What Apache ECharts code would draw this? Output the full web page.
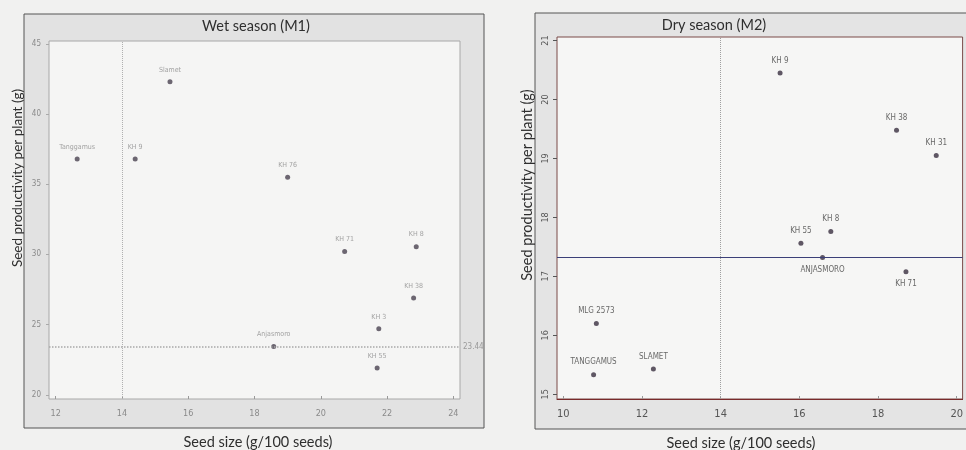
<!DOCTYPE html>
<html><head><meta charset="utf-8">
<script src="https://cdn.jsdelivr.net/npm/echarts@6/dist/echarts.min.js"></script>
<style>html,body{margin:0;padding:0;background:#f1f1f0;}#c{width:966px;height:450px;}</style>
</head><body><div id="c"></div>
<script>
// ---- data ----
const wetLabels = ['Tanggamus','KH 9','Slamet','KH 76','KH 71','KH 8','KH 38','KH 3','Anjasmoro','KH 55'];
const wetSize   = [12.65, 14.4, 15.45, 19.0, 20.72, 22.88, 22.8, 21.75, 18.58, 21.7];
const wetYield  = [36.8, 36.8, 42.3, 35.5, 30.2, 30.55, 26.9, 24.7, 23.44, 21.9];
const dryLabels = ['KH 9','KH 38','KH 31','KH 8','KH 55','ANJASMORO','KH 71','MLG 2573','TANGGAMUS','SLAMET'];
const drySize   = [15.51, 18.47, 19.48, 16.8, 16.04, 16.59, 18.71, 10.84, 10.77, 12.29];
const dryYield  = [20.45, 19.48, 19.05, 17.76, 17.56, 17.32, 17.08, 16.2, 15.33, 15.43];
const dryBelow  = ['ANJASMORO','KH 71'];
const wetXTicks = [12,14,16,18,20,22,24];
const wetYTicks = [20,25,30,35,40,45];
const dryXTicks = [10,12,14,16,18,20];
const dryYTicks = [15,16,17,18,19,20,21];
const wetRefX = 14, wetRefY = 23.44;
const dryRefX = 14, dryRefY = 17.33;
const xName = 'Seed size (g/100 seeds)';
const yName = 'Seed productivity per plant (g)';

const chart = echarts.init(document.getElementById('c'), null, {renderer:'canvas'});
const font = 'Lato, "Open Sans", sans-serif';
const cond = '"DejaVu Sans Condensed", "DejaVu Sans", sans-serif';

function wetData(){ return wetSize.map((x,i)=>({value:[x,wetYield[i]], name:wetLabels[i]})); }
function dryData(){ return drySize.map((x,i)=>({value:[x,dryYield[i]], name:dryLabels[i],
  label:{position: dryBelow.includes(dryLabels[i]) ? 'bottom' : 'top'}})); }

function txt(t, x, y, size, rot){
  return {type:'text', x:x, y:y, rotation:rot||0, z:10,
    style:{text:t, font:size+'px '+font, fill:'#2e2e2e', align:'center', verticalAlign:'middle'}};
}

chart.setOption({
  backgroundColor:'#f1f1f0',
  animation:false,
  graphic:[
    {type:'rect', z:-10, shape:{x:24,y:14,width:460,height:414}, style:{fill:'#e2e2e2', stroke:'#555', lineWidth:1}},
    {type:'rect', z:-10, shape:{x:535,y:13,width:440,height:416}, style:{fill:'#e4e4e4', stroke:'#555', lineWidth:1}},
    txt('Wet season (M1)', 256, 26, 14.5),
    txt('Dry season (M2)', 714, 25, 14.5),
    txt(xName, 258, 442, 14.5),
    txt(xName, 741, 443, 14.5),
    txt(yName, 18, 178, 13.5, Math.PI/2),
    txt(yName, 527, 185, 14.5, Math.PI/2)
  ],
  grid:[
    {left:49, top:41, width:411, height:358, show:true, backgroundColor:'#f5f5f4', borderColor:'#a8a8a8', borderWidth:1},
    {left:557, top:37, width:406, height:362, show:true, backgroundColor:'#f6f6f5', borderColor:'#7a4a48', borderWidth:1}
  ],
  xAxis:[
    {gridIndex:0, type:'value', min:11.8, max:24.2, splitLine:{show:false},
     axisLine:{show:false}, axisTick:{show:true, inside:true, length:3, customValues:wetXTicks, lineStyle:{color:'#999'}},
     axisLabel:{customValues:wetXTicks, color:'#8a8a8a', fontSize:9, fontFamily:cond, margin:10}},
    {gridIndex:1, type:'value', min:9.84, max:20.15, splitLine:{show:false},
     axisLine:{show:true, lineStyle:{color:'#7a2a2a'}}, axisTick:{show:true, inside:true, length:3, customValues:dryXTicks, lineStyle:{color:'#999'}},
     axisLabel:{customValues:dryXTicks, color:'#555', fontSize:11, fontFamily:cond, margin:10}}
  ],
  yAxis:[
    {gridIndex:0, type:'value', min:19.7, max:45.2, splitLine:{show:false},
     axisLine:{show:false}, axisTick:{show:true, length:3, customValues:wetYTicks, lineStyle:{color:'#aaa'}},
     axisLabel:{customValues:wetYTicks, color:'#8a8a8a', fontSize:8, fontFamily:cond, margin:8}},
    {gridIndex:1, type:'value', min:14.92, max:21.06, splitLine:{show:false},
     axisLine:{show:false}, axisTick:{show:true, length:4, customValues:dryYTicks, lineStyle:{color:'#555'}},
     axisLabel:{customValues:dryYTicks, color:'#555', fontSize:9, fontFamily:cond, margin:7, rotate:90}}
  ],
  series:[
    {type:'scatter', xAxisIndex:0, yAxisIndex:0, data:wetData(), symbol:'circle', symbolSize:5,
     itemStyle:{color:'#4a4250'},
     label:{show:true, position:'top', distance:6, formatter:'{b}', fontSize:7, fontFamily:cond, color:'#8d8d8d'},
     markLine:{silent:true, symbol:'none', animation:false,
       data:[
         {xAxis:wetRefX, lineStyle:{color:'#b0b0b0', type:'dotted', width:1}, label:{show:false}},
         {yAxis:wetRefY, lineStyle:{color:'#a8a8a8', type:'dotted', width:1.5},
          label:{show:true, position:'end', formatter:'23.44', fontSize:8, color:'#9a9a9a', fontFamily:cond, distance:3}}
       ]}},
    {type:'scatter', xAxisIndex:1, yAxisIndex:1, data:dryData(), symbol:'circle', symbolSize:5,
     itemStyle:{color:'#3a3040'},
     label:{show:true, position:'top', distance:6, formatter:'{b}', fontSize:8, fontFamily:cond, color:'#444'},
     markLine:{silent:true, symbol:'none', animation:false,
       data:[
         {xAxis:dryRefX, lineStyle:{color:'#a0a0a0', type:'dotted', width:1}, label:{show:false}},
         {yAxis:dryRefY, lineStyle:{color:'#3b3f78', type:'solid', width:1}, label:{show:false}}
       ]}}
  ]
});
</script></body></html>
